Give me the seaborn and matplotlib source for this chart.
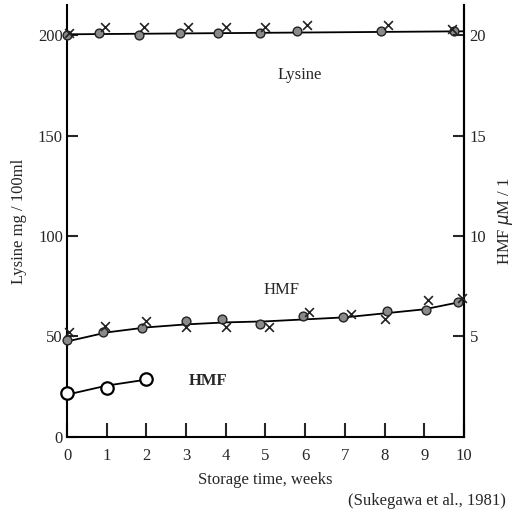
import numpy as np
import pandas as pd
import matplotlib
matplotlib.use('Agg')
import matplotlib.pyplot as plt
import seaborn as sns

# Lysine (mg/100ml), circles and crosses
lys_weeks_o = [0, 0.8, 1.8, 2.85, 3.8, 4.85, 5.8, 7.9, 9.75]
lys_o = [200, 201, 200, 201, 201, 201, 202, 202, 202]
lys_weeks_x = [0.05, 0.95, 1.95, 3.05, 4.0, 5.0, 6.05, 8.1, 9.7]
lys_x = [201, 204, 204, 204, 204, 204, 205, 205, 203]
lys_line_weeks = [0, 10]
lys_line = [200.5, 202]

# HMF (uM/l), upper series
hmf_weeks_o = [0, 0.9, 1.9, 3.0, 3.9, 4.85, 5.95, 6.95, 8.05, 9.05, 9.85]
hmf_o = [4.8, 5.2, 5.4, 5.75, 5.85, 5.6, 6.0, 5.95, 6.25, 6.3, 6.7]
hmf_weeks_x = [0.05, 0.95, 2.0, 3.0, 4.0, 5.1, 6.1, 7.15, 8.0, 9.1, 9.95]
hmf_x = [5.2, 5.5, 5.75, 5.45, 5.45, 5.45, 6.2, 6.1, 5.85, 6.8, 6.9]
hmf_line_weeks = [0, 1, 2, 3, 4, 5, 6, 7, 8, 9, 10]
hmf_line = [4.75, 5.2, 5.45, 5.6, 5.7, 5.75, 5.85, 5.95, 6.15, 6.35, 6.75]

# HMF, lower series (open circles)
hmf2_weeks = [0, 1, 2]
hmf2 = [2.2, 2.45, 2.9]
hmf2_line = [2.1, 2.55, 2.85]

sns.set_style('ticks')
plt.rcParams['font.family'] = ['Liberation Serif', 'DejaVu Serif']

fig = plt.figure(figsize=(5.16, 5.20), dpi=100)
ax = fig.add_axes([0.130, 0.160, 0.769, 0.830])
ax2 = ax.twinx()

# lysine on left axis
sns.lineplot(x=lys_line_weeks, y=lys_line, ax=ax, color='black', lw=1.3)
sns.scatterplot(x=lys_weeks_o, y=lys_o, ax=ax, marker='o', s=40, clip_on=False,
                color='#8a8a8a', edgecolor='#222222', linewidth=1, zorder=3)
sns.scatterplot(x=lys_weeks_x, y=lys_x, ax=ax, marker='x', s=40, clip_on=False,
                color='#222222', linewidth=1.2, zorder=3)

# HMF on right axis
sns.lineplot(x=hmf_line_weeks, y=hmf_line, ax=ax2, color='black', lw=1.3)
sns.scatterplot(x=hmf_weeks_o, y=hmf_o, ax=ax2, marker='o', s=40, clip_on=False,
                color='#8a8a8a', edgecolor='#222222', linewidth=1, zorder=3)
sns.scatterplot(x=hmf_weeks_x, y=hmf_x, ax=ax2, marker='x', s=40, clip_on=False,
                color='#222222', linewidth=1.2, zorder=3)
sns.lineplot(x=hmf2_weeks, y=hmf2_line, ax=ax2, color='black', lw=1.3)
sns.scatterplot(x=hmf2_weeks, y=hmf2, ax=ax2, marker='o', s=80, clip_on=False,
                color='white', edgecolor='black', linewidth=1.6, zorder=3)

ax.set_xlim(0, 10)
ax.set_ylim(0, 215)
ax2.set_ylim(0, 21.5)

ax.set_xticks(range(0, 11))
ax.set_yticks([0, 50, 100, 150, 200])
ax2.set_yticks([5, 10, 15, 20])

for a in (ax, ax2):
    a.spines['top'].set_visible(False)
    for s in a.spines.values():
        s.set_linewidth(1.5)
        s.set_color('black')
ax2.spines['left'].set_visible(False)
ax2.spines['bottom'].set_visible(False)

ax.tick_params(axis='x', direction='in', length=10, width=1.5, labelsize=12, pad=8)
ax.tick_params(axis='y', direction='in', length=8, width=1.5, labelsize=12, pad=3)
ax2.tick_params(axis='y', direction='in', length=8, width=1.5, labelsize=12, pad=4)

ax.set_xlabel('Storage time, weeks', fontsize=12, labelpad=6)
ax.set_ylabel('Lysine mg / 100ml', fontsize=12, labelpad=8)
ax2.set_ylabel('HMF $\\mu$M / 1', fontsize=12, labelpad=7)

ax.text(5.85, 180, 'Lysine', fontsize=12, ha='center', va='center')
ax.text(5.4, 73, 'HMF', fontsize=12, ha='center', va='center')
ax.text(3.55, 28, 'HMF', fontsize=12, ha='center', va='center', fontweight='bold')

fig.text(0.98, 0.022, '(Sukegawa et al., 1981)', fontsize=12, ha='right', va='bottom')

fig.savefig('out.png', dpi=100)
